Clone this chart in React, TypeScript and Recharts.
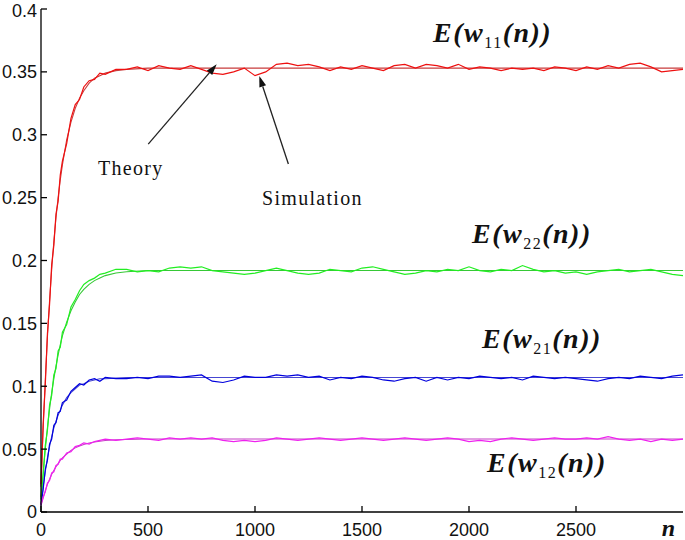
import { LineChart, Line, XAxis, YAxis, ReferenceLine, ReferenceDot } from "recharts";

// n positions where the simulated curves were read off
const simN = [
  0, 10, 20, 30, 40, 50, 60, 70, 80, 90, 100, 120, 140, 160, 180, 200, 225, 250, 275, 300, 350,
  400, 450, 500, 550, 600, 650, 700, 750, 800, 850, 900, 950, 1000, 1050, 1100, 1150, 1200, 1250,
  1300, 1350, 1400, 1450, 1500, 1550, 1600, 1650, 1700, 1750, 1800, 1850, 1900, 1950, 2000, 2050,
  2100, 2150, 2200, 2250, 2300, 2350, 2400, 2450, 2500, 2550, 2600, 2650, 2700, 2750, 2800, 2850,
  2900, 2950, 3000,
];

const redSim = [
  0.022, 0.07, 0.101, 0.142, 0.165, 0.197, 0.212, 0.237, 0.247, 0.268, 0.279, 0.293, 0.313, 0.324,
  0.328, 0.338, 0.343, 0.344, 0.349, 0.348, 0.352,
  0.352, 0.354, 0.351, 0.355, 0.353, 0.352, 0.355, 0.352, 0.349, 0.348, 0.35, 0.353, 0.347, 0.35,
  0.356, 0.357, 0.355, 0.356, 0.354, 0.351, 0.354, 0.352, 0.355, 0.353, 0.351, 0.355, 0.356, 0.353,
  0.356, 0.355, 0.353, 0.356, 0.352, 0.354, 0.353, 0.351, 0.353, 0.352, 0.353, 0.351, 0.354, 0.353,
  0.351, 0.354, 0.352, 0.355, 0.353, 0.356, 0.357, 0.354, 0.35, 0.351, 0.352,
];

const greenSim = [
  0.012, 0.029, 0.053, 0.065, 0.085, 0.093, 0.109, 0.114, 0.128, 0.131, 0.143, 0.149, 0.163, 0.169,
  0.176, 0.181, 0.184, 0.186, 0.189, 0.19, 0.193,
  0.193, 0.191, 0.192, 0.191, 0.194, 0.195, 0.194, 0.195, 0.192, 0.191, 0.19, 0.189, 0.19, 0.192,
  0.194, 0.192, 0.19, 0.189, 0.19, 0.193, 0.192, 0.191, 0.194, 0.195, 0.193, 0.191, 0.189, 0.19,
  0.192, 0.191, 0.193, 0.192, 0.195, 0.192, 0.191, 0.193, 0.192, 0.196, 0.193, 0.191, 0.192, 0.19,
  0.191, 0.189, 0.191, 0.192, 0.193, 0.191, 0.192, 0.193, 0.191, 0.189, 0.188,
];

const blueSim = [
  0.006, 0.018, 0.034, 0.041, 0.054, 0.058, 0.069, 0.071, 0.079, 0.08, 0.087, 0.089, 0.096, 0.099,
  0.102, 0.101, 0.105, 0.106, 0.104, 0.107, 0.106,
  0.106, 0.107, 0.106, 0.108, 0.108, 0.107, 0.108, 0.109, 0.104, 0.103, 0.105, 0.108, 0.107, 0.107,
  0.109, 0.108, 0.109, 0.107, 0.108, 0.105, 0.107, 0.106, 0.108, 0.107, 0.105, 0.104, 0.106, 0.107,
  0.104, 0.107, 0.105, 0.107, 0.106, 0.108, 0.107, 0.106, 0.107, 0.105, 0.108, 0.107, 0.106, 0.107,
  0.106, 0.105, 0.104, 0.106, 0.107, 0.106, 0.108, 0.107, 0.106, 0.108, 0.109,
];

const magentaSim = [
  0.006, 0.012, 0.016, 0.023, 0.025, 0.031, 0.032, 0.037, 0.038, 0.042, 0.042, 0.047, 0.048, 0.052,
  0.053, 0.055, 0.054, 0.056, 0.057, 0.058, 0.057,
  0.058, 0.059, 0.058, 0.057, 0.059, 0.058, 0.059, 0.058, 0.059, 0.057, 0.056, 0.057, 0.056, 0.057,
  0.059, 0.058, 0.057, 0.058, 0.059, 0.058, 0.057, 0.058, 0.059, 0.058, 0.057, 0.058, 0.059, 0.058,
  0.057, 0.058, 0.059, 0.058, 0.056, 0.057, 0.056, 0.058, 0.059, 0.058, 0.057, 0.058, 0.059, 0.058,
  0.058, 0.059, 0.058, 0.06, 0.058, 0.057, 0.058, 0.056, 0.058, 0.057, 0.058,
];

// theoretical curves
const theoryN = [0, 10, 20, 30, 40, 50, 60, 70, 80, 90, 100, 120, 140, 160, 180, 200, 225, 250, 275, 300, 350, 400, 500, 3000];
const redTheory = [0.02, 0.066, 0.105, 0.139, 0.168, 0.193, 0.215, 0.234, 0.25, 0.264, 0.276, 0.296, 0.31, 0.321, 0.329, 0.335, 0.341, 0.345, 0.347, 0.349, 0.351, 0.352, 0.353, 0.353];
const greenTheory = [0.01, 0.031, 0.05, 0.067, 0.082, 0.095, 0.106, 0.116, 0.125, 0.133, 0.14, 0.151, 0.16, 0.167, 0.173, 0.177, 0.181, 0.184, 0.186, 0.188, 0.19, 0.191, 0.192, 0.192];
const blueTheory = [0.005, 0.02, 0.032, 0.043, 0.052, 0.06, 0.067, 0.072, 0.077, 0.081, 0.085, 0.091, 0.095, 0.098, 0.101, 0.102, 0.104, 0.105, 0.106, 0.106, 0.1065, 0.107, 0.107, 0.107];
const magentaTheory = [0.005, 0.011, 0.017, 0.022, 0.026, 0.03, 0.033, 0.036, 0.0385, 0.041, 0.043, 0.046, 0.049, 0.051, 0.0525, 0.0537, 0.0549, 0.0557, 0.0563, 0.0568, 0.0574, 0.0577, 0.058, 0.058];

const xTicks = [0, 500, 1000, 1500, 2000, 2500];
const yTicks = [0, 0.05, 0.1, 0.15, 0.2, 0.25, 0.3, 0.35, 0.4];

const curveNames = ["11", "22", "21", "12"];

const simRows = simN.map((n, i) => ({ n, red: redSim[i], green: greenSim[i], blue: blueSim[i], magenta: magentaSim[i] }));
const theoryRows = theoryN.map((n, i) => ({ n, red: redTheory[i], green: greenTheory[i], blue: blueTheory[i], magenta: magentaTheory[i] }));

const series = [
  { key: "red", sim: "#ee1010", theory: "#c83c3c" },
  { key: "green", sim: "#22ee22", theory: "#36c836" },
  { key: "blue", sim: "#0000dd", theory: "#4646d2" },
  { key: "magenta", sim: "#ee22ee", theory: "#c83cc8" },
];

// where the curve names sit (data units)
const namePos = [
  { n: 1832, y: 0.3738 },
  { n: 2014, y: 0.2139 },
  { n: 2061, y: 0.1304 },
  { n: 2084, y: 0.0318 },
];

const serifStyle = { fontFamily: "'Liberation Serif', 'Times New Roman', Times, serif" };
const sans = "'Liberation Sans', Arial, sans-serif";

function Arrow(props: any) {
  const { x1, y1, x2, y2 } = props;
  const a = Math.atan2(y2 - y1, x2 - x1);
  const len = 11;
  const half = 3.5;
  const bx = x2 - len * Math.cos(a);
  const by = y2 - len * Math.sin(a);
  const px = -Math.sin(a) * half;
  const py = Math.cos(a) * half;
  return (
    <g>
      <line x1={x1} y1={y1} x2={bx} y2={by} stroke="#222" strokeWidth={1.3} />
      <polygon points={`${x2},${y2} ${bx + px},${by + py} ${bx - px},${by - py}`} fill="#111" />
    </g>
  );
}

const nameShape = (sub: string) => (props: any) => (
  <text
    x={props.cx}
    y={props.cy}
    style={{ ...serifStyle, fontWeight: 700, fontStyle: "italic", fontSize: 28, letterSpacing: 1.5 }}
    fill="#111"
  >
    E(w
    <tspan style={{ fontSize: 16, fontStyle: "normal", fontWeight: 400 }} dy={6}>{sub}</tspan>
    <tspan dy={-6}>(n))</tspan>
  </text>
);

const wordShape = (word: string) => (props: any) => (
  <text x={props.cx} y={props.cy} style={{ ...serifStyle, fontSize: 20, letterSpacing: 1.3 }} fill="#111">
    {word}
  </text>
);

export default function App() {
  const tickStyle = { fontSize: 18, fill: "#111", fontFamily: sans };
  return (
    <div style={{ position: "absolute", left: 0, top: 0, background: "#fff" }}>
      <LineChart width={685} height={540} margin={{ top: 9, right: 2, bottom: 0, left: 0 }}>
        <XAxis
          dataKey="n"
          type="number"
          domain={[0, 3000]}
          ticks={xTicks}
          height={28}
          tickSize={-6}
          tickMargin={17}
          tick={tickStyle}
          stroke="#000"
          strokeWidth={1.3}
          label={{
            content: (p: any) => (
              <text
                x={p.viewBox.x + p.viewBox.width - 8}
                y={p.viewBox.y + 24}
                textAnchor="end"
                style={{ ...serifStyle, fontWeight: 700, fontStyle: "italic", fontSize: 24 }}
                fill="#111"
              >
                n
              </text>
            ),
          }}
        />
        <XAxis
          xAxisId="top"
          orientation="top"
          type="number"
          domain={[0, 3000]}
          ticks={xTicks}
          height={0}
          tickSize={-6}
          tickFormatter={() => ""}
          stroke="#000"
          strokeWidth={1.3}
        />
        <YAxis
          type="number"
          domain={[0, 0.4]}
          ticks={yTicks}
          width={41}
          tickSize={-6}
          tickMargin={10}
          tick={tickStyle}
          tickFormatter={(v: number) => String(v)}
          stroke="#000"
          strokeWidth={1.3}
        />
        <YAxis
          yAxisId="right"
          orientation="right"
          type="number"
          domain={[0, 0.4]}
          ticks={yTicks}
          width={0}
          tickSize={-6}
          tickFormatter={() => ""}
          stroke="#000"
          strokeWidth={1.3}
        />
        {series.map((s) => (
          <Line
            key={s.key + "-theory"}
            data={theoryRows}
            dataKey={s.key}
            stroke={s.theory}
            strokeWidth={1.1}
            dot={false}
            isAnimationActive={false}
          />
        ))}
        {series.map((s) => (
          <Line
            key={s.key + "-sim"}
            data={simRows}
            dataKey={s.key}
            stroke={s.sim}
            strokeWidth={1.2}
            dot={false}
            isAnimationActive={false}
          />
        ))}
        {curveNames.map((sub, i) => (
          <ReferenceDot key={sub} x={namePos[i].n} y={namePos[i].y} r={0} shape={nameShape(sub)} />
        ))}
        <ReferenceDot x={266} y={0.268} r={0} shape={wordShape("Theory")} />
        <ReferenceDot x={1033} y={0.244} r={0} shape={wordShape("Simulation")} />
        <ReferenceLine segment={[{ x: 501, y: 0.2926 }, { x: 821, y: 0.356 }]} shape={Arrow} />
        <ReferenceLine segment={[{ x: 1156, y: 0.2767 }, { x: 1020, y: 0.3467 }]} shape={Arrow} />
      </LineChart>
    </div>
  );
}
